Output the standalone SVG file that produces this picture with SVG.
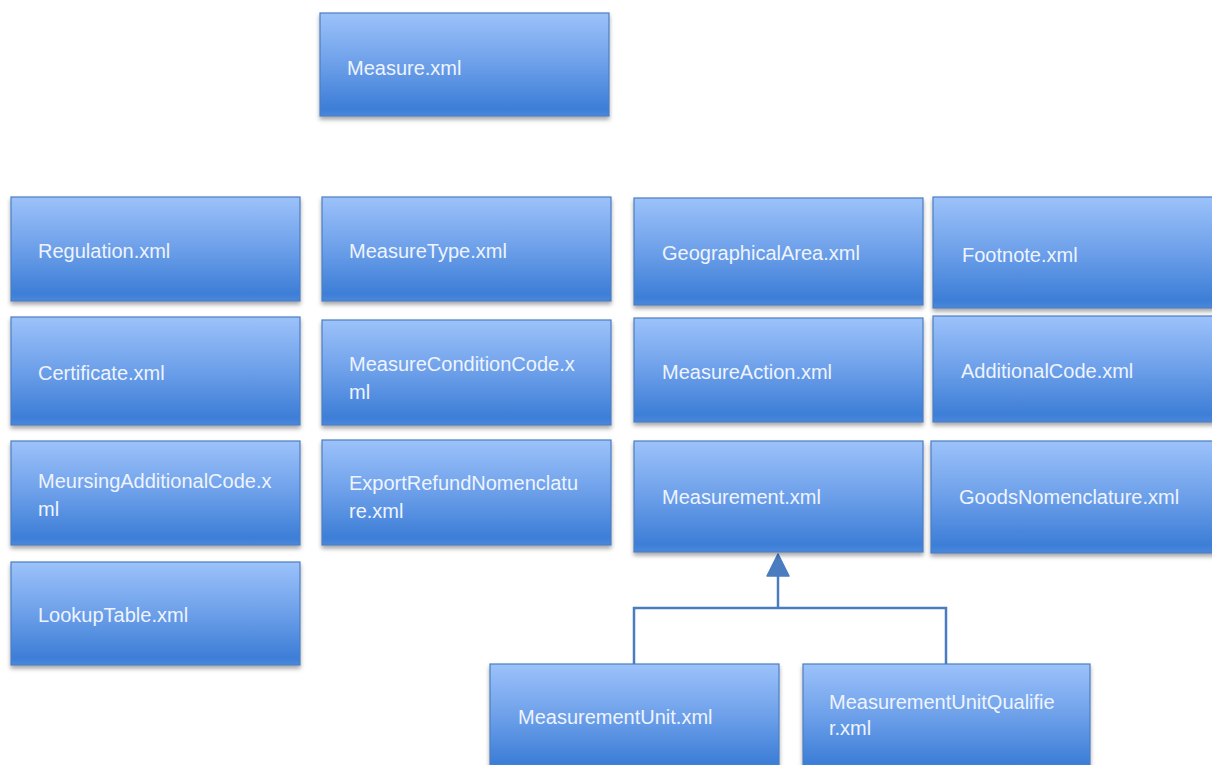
<svg xmlns="http://www.w3.org/2000/svg" width="1212" height="765" viewBox="0 0 1212 765">
<defs>
<linearGradient id="g" x1="0" y1="0" x2="0" y2="1">
<stop offset="0" stop-color="#9cc2fa"/>
<stop offset="0.5" stop-color="#6c9fe9"/>
<stop offset="0.93" stop-color="#3d7ed7"/>
<stop offset="1" stop-color="#4a88dc"/>
</linearGradient>
<filter id="sh" x="-5%" y="-5%" width="110%" height="120%">
<feDropShadow dx="0" dy="3" stdDeviation="2.2" flood-color="#000" flood-opacity="0.35"/>
</filter>
<marker id="ah" markerWidth="10" markerHeight="10" refX="9" refY="5" orient="auto" markerUnits="userSpaceOnUse" viewBox="0 0 10 10">
<path d="M0,0 L10,5 L0,10 z" fill="#4a7cc0"/>
</marker>
</defs>
<style>
.box{fill:url(#g);stroke:#4d7ec0;stroke-width:1.2;filter:url(#sh)}
.t{font-family:"Liberation Sans",Arial,sans-serif;font-size:20px;fill:#eef4ff}
.c{fill:none;stroke:#4a7cc0;stroke-width:2.5}
</style>
<rect width="1212" height="765" fill="#ffffff"/>
<g id="connectors">
<polyline class="c" points="634,665 634,608 946,608 946,665"/>
<line class="c" x1="778" y1="608" x2="778" y2="574"/>
<path d="M778,554 L789,576 L767,576 z" fill="#4a7cc0" stroke="#4a7cc0" stroke-width="1.5" stroke-linejoin="round"/>
</g>
<g id="measure"><rect class="box" x="320" y="13" width="289" height="103"/><text class="t" x="347" y="75">Measure.xml</text></g>
<g id="regulation"><rect class="box" x="11" y="197" width="289" height="104"/><text class="t" x="38" y="258">Regulation.xml</text></g>
<g id="certificate"><rect class="box" x="11" y="317" width="289" height="108"/><text class="t" x="38" y="380">Certificate.xml</text></g>
<g id="meursing"><rect class="box" x="11" y="441" width="289" height="104"/><text class="t" x="38" y="488">MeursingAdditionalCode.x<tspan x="38" dy="28">ml</tspan></text></g>
<g id="lookup"><rect class="box" x="11" y="562" width="289" height="103"/><text class="t" x="38" y="622">LookupTable.xml</text></g>
<g id="measuretype"><rect class="box" x="322" y="197" width="289" height="104"/><text class="t" x="349" y="258">MeasureType.xml</text></g>
<g id="measureconditioncode"><rect class="box" x="322" y="320" width="289" height="105"/><text class="t" x="349" y="371">MeasureConditionCode.x<tspan x="349" dy="28">ml</tspan></text></g>
<g id="exportrefund"><rect class="box" x="322" y="440" width="289" height="105"/><text class="t" x="349" y="490">ExportRefundNomenclatu<tspan x="349" dy="28">re.xml</tspan></text></g>
<g id="geographicalarea"><rect class="box" x="634" y="198" width="289" height="107"/><text class="t" x="662" y="260">GeographicalArea.xml</text></g>
<g id="measureaction"><rect class="box" x="634" y="318" width="289" height="104"/><text class="t" x="662" y="379">MeasureAction.xml</text></g>
<g id="measurement"><rect class="box" x="634" y="441" width="289" height="111"/><text class="t" x="662" y="504">Measurement.xml</text></g>
<g id="footnote"><rect class="box" x="933" y="197" width="290" height="111"/><text class="t" x="962" y="262">Footnote.xml</text></g>
<g id="additionalcode"><rect class="box" x="933" y="316" width="290" height="106"/><text class="t" x="961" y="378">AdditionalCode.xml</text></g>
<g id="goodsnomenclature"><rect class="box" x="931" y="441" width="292" height="112"/><text class="t" x="959" y="504">GoodsNomenclature.xml</text></g>
<g id="measurementunit"><rect class="box" x="490" y="664" width="289" height="106"/><text class="t" x="518" y="724">MeasurementUnit.xml</text></g>
<g id="measurementunitqualifier"><rect class="box" x="803" y="664" width="287" height="106"/><text class="t" x="829" y="709">MeasurementUnitQualifie<tspan x="829" dy="26">r.xml</tspan></text></g>
</svg>
